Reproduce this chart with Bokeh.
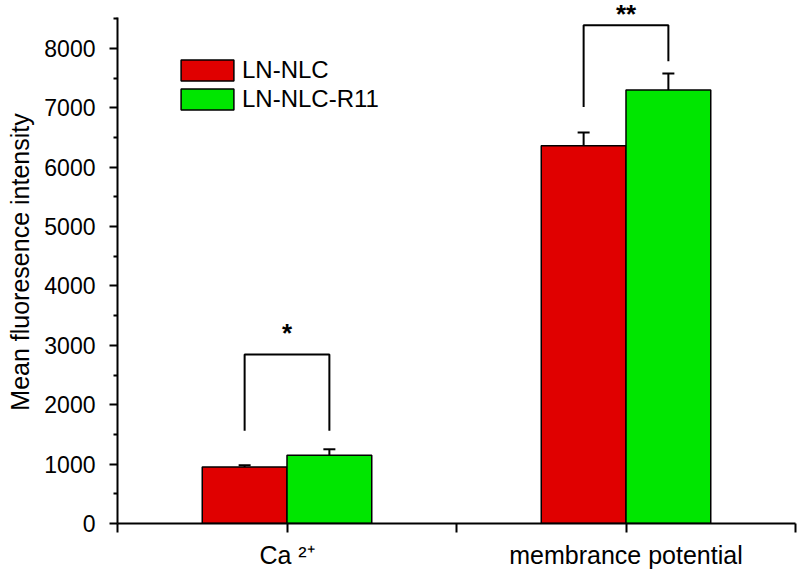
from bokeh.plotting import figure
from bokeh.models import (ColumnDataSource, FixedTicker, Legend, LegendItem, Whisker,
                          TeeHead, Range1d, Title)
from bokeh.embed import file_html
from bokeh.resources import INLINE
from bokeh.core.properties import value

# ---- data ----
categories = ["Ca \u00b2\u207a", "membrance potential"]
series_names = ["LN-NLC", "LN-NLC-R11"]
ln_nlc = [950, 6360]
ln_nlc_err = [30, 225]
ln_nlc_r11 = [1150, 7300]
ln_nlc_r11_err = [100, 280]
y_ticks = [0, 1000, 2000, 3000, 4000, 5000, 6000, 7000, 8000]
y_minor = [500, 1500, 2500, 3500, 4500, 5500, 6500, 7500, 8500]
y_title = "Mean fluoresence intensity"
sig_labels = ["*", "**"]
sig_top = [2846, 8392]
sig_left_end = [1560, 7016]
sig_right_end = [1560, 7786]
sig_label_y = [3200, 8586]

FONT = "Liberation Sans"
colors = ["#e00000", "#00e600"]
cat_pos = [1 + 2 * i for i in range(len(categories))]   # 1, 3
offset = 0.25
bar_w = 0.5

p = figure(width=800, height=576, x_range=Range1d(0, 4), y_range=Range1d(0, 8808),
           output_backend="svg", toolbar_location=None,
           min_border_left=117, min_border_right=5, min_border_top=0, min_border_bottom=53)
p.outline_line_color = None
p.xgrid.grid_line_color = None
p.ygrid.grid_line_color = None

renderers = []
for k, (vals, errs) in enumerate([(ln_nlc, ln_nlc_err), (ln_nlc_r11, ln_nlc_r11_err)]):
    xs = [c + (offset if k else -offset) for c in cat_pos]
    src = ColumnDataSource(dict(x=xs, top=vals, upper=[v + e for v, e in zip(vals, errs)]))
    r = p.vbar(x="x", top="top", width=bar_w, source=src, fill_color=colors[k],
               line_color="black", line_width=1.5)
    renderers.append(r)
    p.add_layout(Whisker(source=src, base="x", upper="upper", lower="top",
                         lower_head=None,
                         upper_head=TeeHead(size=12, line_width=2, line_color="black"),
                         line_width=2, line_color="black"))

# significance brackets
bxs, bys = [], []
for c, t, le, re_ in zip(cat_pos, sig_top, sig_left_end, sig_right_end):
    l, r_ = c - offset, c + offset
    bxs.append([l, l, r_, r_])
    bys.append([le, t, t, re_])
p.multi_line(xs=bxs, ys=bys, line_color="black", line_width=2)
p.text(x=cat_pos, y=sig_label_y, text=sig_labels, text_font=value(FONT),
       text_font_size="26px", text_font_style="bold", text_align="center",
       text_baseline="alphabetic", text_color="black")

# y axis
ya = p.yaxis[0]
ya.ticker = FixedTicker(ticks=y_ticks, minor_ticks=y_minor)
ya.bounds = (0, 8530)
ya.axis_line_width = 2
ya.major_tick_line_width = 2
ya.minor_tick_line_width = 2
ya.major_tick_out = 8
ya.major_tick_in = 0
ya.minor_tick_out = 4
ya.minor_tick_in = 0
ya.major_label_standoff = 14
ya.major_label_text_font = FONT
ya.major_label_text_font_size = "23px"
ya.major_label_text_color = "black"

# y axis title (as a side title so it can be offset along the axis)
p.add_layout(Title(text=y_title, align="center", vertical_align="top", offset=10, standoff=11,
                   text_font=FONT, text_font_size="25px", text_font_style="normal",
                   text_color="black"), "left")

# x axis
xa = p.xaxis[0]
xa.ticker = FixedTicker(ticks=[0, 1, 2, 3, 4], minor_ticks=[])
overrides = {0: "", 2: "", 4: ""}
for c, name in zip(cat_pos, categories):
    overrides[c] = name
xa.major_label_overrides = overrides
xa.axis_line_width = 2
xa.major_tick_line_width = 2
xa.major_tick_out = 9
xa.major_tick_in = 0
xa.minor_tick_out = 0
xa.minor_tick_in = 0
xa.major_label_standoff = 8
xa.major_label_text_font = FONT
xa.major_label_text_font_size = "25px"
xa.major_label_text_color = "black"

legend = Legend(items=[LegendItem(label=n, renderers=[r]) for n, r in zip(series_names, renderers)],
                location=(57, 410), orientation="vertical")
legend.glyph_width = 66
legend.glyph_height = 26
legend.label_height = 26
legend.label_standoff = 2
legend.spacing = 1
legend.padding = 0
legend.margin = 0
legend.border_line_color = None
legend.background_fill_alpha = 0
legend.label_text_font = FONT
legend.label_text_font_size = "24px"
legend.label_text_color = "black"
p.add_layout(legend, "center")

open("out.html", "w").write(file_html(p, INLINE))
